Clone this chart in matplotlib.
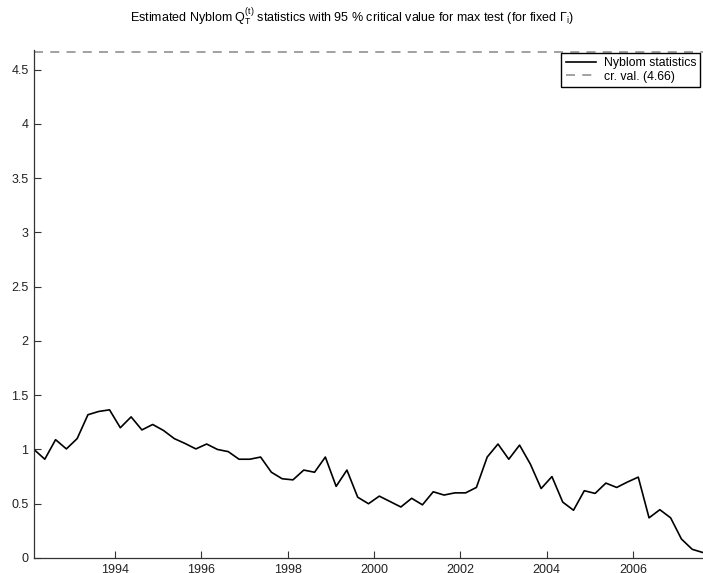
import matplotlib.pyplot as plt
import matplotlib as mpl
import numpy as np

# Global style
mpl.rcParams['font.family'] = 'sans-serif'
mpl.rcParams['font.sans-serif'] = ['Liberation Sans']
mpl.rcParams['font.size'] = 9
mpl.rcParams['mathtext.fontset'] = 'custom'
mpl.rcParams['mathtext.rm'] = 'Liberation Sans'
mpl.rcParams['mathtext.it'] = 'Liberation Sans:italic'

# Data: quarterly Nyblom statistics
start_year = 1992.125
nyblom = [1.00, 0.91, 1.09, 1.005, 1.10, 1.32, 1.35, 1.365, 1.20, 1.30,
          1.18, 1.23, 1.175, 1.10, 1.055, 1.005, 1.05, 1.00, 0.98, 0.91,
          0.91, 0.93, 0.79, 0.73, 0.72, 0.81, 0.79, 0.93, 0.66, 0.81,
          0.56, 0.50, 0.57, 0.52, 0.47, 0.55, 0.49, 0.61, 0.58, 0.60,
          0.60, 0.65, 0.93, 1.05, 0.91, 1.04, 0.865, 0.64, 0.75, 0.515,
          0.44, 0.62, 0.595, 0.69, 0.65, 0.70, 0.745, 0.37, 0.445, 0.37,
          0.175, 0.08, 0.05]
crit_val = 4.66
years = start_year + 0.25 * np.arange(len(nyblom))
xtick_years = [1994, 1996, 1998, 2000, 2002, 2004, 2006]
yticks = [0, 0.5, 1, 1.5, 2, 2.5, 3, 3.5, 4, 4.5]

fig = plt.figure(figsize=(7.03, 5.73), dpi=100)
ax = fig.add_axes([34/703, 15/573, 1 - 34/703, (558 - 50)/573])

ax.plot(years, nyblom, color='black', linewidth=1.2, label='Nyblom statistics')
ax.axhline(crit_val, color='#9a9a9a', linestyle=(0, (5, 4)), linewidth=1.3,
           label='cr. val. (%.2f)' % crit_val)

ax.set_xlim(years[0], years[-1])
ax.set_ylim(0, 4.68)
ax.set_xticks(xtick_years)
ax.set_xticklabels([str(y) for y in xtick_years])
ax.set_yticks(yticks)
ax.set_yticklabels(['0', '0.5', '1', '1.5', '2', '2.5', '3', '3.5', '4', '4.5'])

ax.tick_params(direction='in', length=5, width=0.8, pad=4,
               color='#333333', labelcolor='#222222')
ax.spines['top'].set_visible(False)
ax.spines['right'].set_visible(False)
for side in ['left', 'bottom']:
    ax.spines[side].set_linewidth(0.9)
    ax.spines[side].set_color('#333333')

ax.legend(loc='upper right', bbox_to_anchor=(0.996, 0.995), borderaxespad=0,
          fontsize=8.8, frameon=True, fancybox=False, edgecolor='black',
          framealpha=1, handlelength=2.5, borderpad=0.35, labelspacing=0.15,
          handletextpad=0.6)

fig.text(0.5, 1 - 17/573,
         r'Estimated Nyblom $\mathregular{Q_T^{(t)}}$ statistics with 95 % critical '
         r'value for max test (for fixed $\mathregular{\Gamma_i}$)',
         ha='center', va='center', fontsize=9)

fig.savefig('out.png', dpi=100)
